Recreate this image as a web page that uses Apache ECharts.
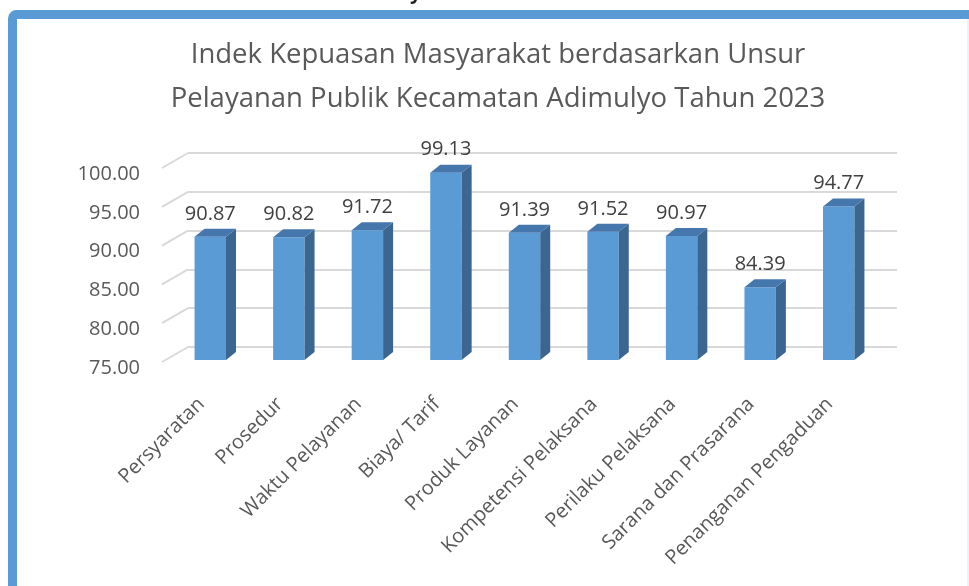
<!DOCTYPE html>
<html>
<head>
<meta charset="utf-8">
<script src="https://cdn.jsdelivr.net/npm/echarts@6/dist/echarts.min.js"></script>
<style>
  html, body { margin: 0; padding: 0; background: #fff; }
  #chart { width: 969px; height: 586px; }
</style>
</head>
<body>
<div id="chart"></div>
<script>
// data
const categories = [
  "Persyaratan",
  "Prosedur",
  "Waktu Pelayanan",
  "Biaya/ Tarif",
  "Produk Layanan",
  "Kompetensi Pelaksana",
  "Perilaku Pelaksana",
  "Sarana dan Prasarana",
  "Penanganan Pengaduan",
];
const values = [90.87, 90.82, 91.72, 99.13, 91.39, 91.52, 90.97, 84.39, 94.77];
const yTicks = [75, 80, 85, 90, 95, 100];
const titleText = "Indek Kepuasan Masyarakat berdasarkan Unsur\nPelayanan Publik Kecamatan Adimulyo Tahun 2023";

const FONT = "Open Sans";
const yMin = 75, yMax = 100, yStep = 5;
const depth = [10, 8]; // 3D offset of the bars (x right, y up)

const front = "#5B9BD5";
const side = "#3A6690";
const topFace = "#4677AC";

const hiddenCat = (gridIndex, show) => ({
  type: "category",
  gridIndex,
  data: categories,
  show,
  axisLine: { show: false },
  axisTick: { show: false },
});

const valAxis = (gridIndex) => ({
  type: "value",
  gridIndex,
  min: yMin,
  max: yMax,
  interval: yStep,
  axisLine: { show: false },
  axisTick: { show: false },
  axisLabel: { show: false },
  splitLine: { show: false },
});

const option = {
  animation: false,
  title: {
    text: titleText,
    left: 493,
    top: 28,
    textAlign: "center",
    textStyle: {
      fontFamily: FONT,
      fontSize: 27.5,
      fontWeight: "normal",
      color: "#595959",
      lineHeight: 44,
    },
  },
  graphic: [
    {
      // frame round the chart
      type: "rect",
      shape: { x: 12.5, y: 14.5, width: 1100, height: 1000, r: 4 },
      style: { fill: null, stroke: "#5B9BD5", lineWidth: 9 },
      silent: true,
    },
    {
      type: "line",
      shape: { x1: 968, y1: 19, x2: 968, y2: 586 },
      style: { stroke: "#DAE6F3", lineWidth: 1 },
      silent: true,
    },
    {
      type: "text",
      left: 410,
      top: -17,
      style: { text: "y", font: "bold 20px " + FONT, fill: "#222" },
      silent: true,
    },
  ],
  grid: [
    // back wall
    { left: 188, top: 153, width: 709, height: 194 },
    // front plane: bars
    { left: 171, top: 166, width: 707, height: 194 },
    // axis labels
    { left: 162, top: 174, width: 707, height: 194 },
  ],
  xAxis: [
    hiddenCat(0, false),
    hiddenCat(1, false),
    {
      ...hiddenCat(2, true),
      axisLabel: {
        rotate: 45,
        margin: 33,
        interval: 0,
        fontFamily: FONT,
        fontSize: 20,
        color: "#595959",
      },
    },
  ],
  yAxis: [
    {
      ...valAxis(0),
      splitLine: { show: true, lineStyle: { color: "#D9D9D9", width: 2 } },
    },
    valAxis(1),
    {
      ...valAxis(2),
      axisLabel: {
        show: true,
        margin: 22,
        fontFamily: FONT,
        fontSize: 20,
        color: "#595959",
        formatter: (v) => v.toFixed(2),
      },
    },
  ],
  series: [
    {
      // side wall grid lines
      type: "custom",
      xAxisIndex: 0,
      yAxisIndex: 0,
      silent: true,
      data: yTicks.map((v) => [0, v]),
      renderItem: (params, api) => {
        const y = api.coord([0, api.value(1)])[1];
        const x0 = params.coordSys.x;
        return {
          type: "line",
          shape: { x1: x0, y1: y, x2: x0 - 26, y2: y + 15 },
          style: { stroke: "#D9D9D9", lineWidth: 2 },
        };
      },
    },
    {
      type: "custom",
      xAxisIndex: 1,
      yAxisIndex: 1,
      data: values.map((v, i) => [i, v]),
      renderItem: (params, api) => {
        const i = api.value(0);
        const v = api.value(1);
        const base = api.coord([i, yMin]);
        const top = api.coord([i, v]);
        const w = api.size([1, 0])[0] * 0.4;
        const x = base[0] - w / 2;
        const [dx, dy] = depth;
        const yt = top[1], yb = base[1];
        return {
          type: "group",
          children: [
            {
              type: "rect",
              shape: { x, y: yt, width: w, height: yb - yt },
              style: { fill: front },
            },
            {
              type: "polygon",
              shape: { points: [[x + w, yt], [x + w + dx, yt - dy], [x + w + dx, yb - dy], [x + w, yb]] },
              style: { fill: side },
            },
            {
              type: "polygon",
              shape: { points: [[x, yt], [x + dx, yt - dy], [x + w + dx, yt - dy], [x + w, yt]] },
              style: { fill: topFace },
            },
            {
              type: "text",
              x: base[0],
              y: yt - 23,
              style: {
                text: v.toFixed(2),
                fontFamily: FONT,
                fontSize: 20,
                fill: "#404040",
                align: "center",
                verticalAlign: "middle",
              },
            },
          ],
        };
      },
    },
  ],
};

const myChart = echarts.init(document.getElementById("chart"));
myChart.setOption(option);
window.addEventListener("resize", () => {
  myChart.resize();
});
</script>
</body>
</html>
